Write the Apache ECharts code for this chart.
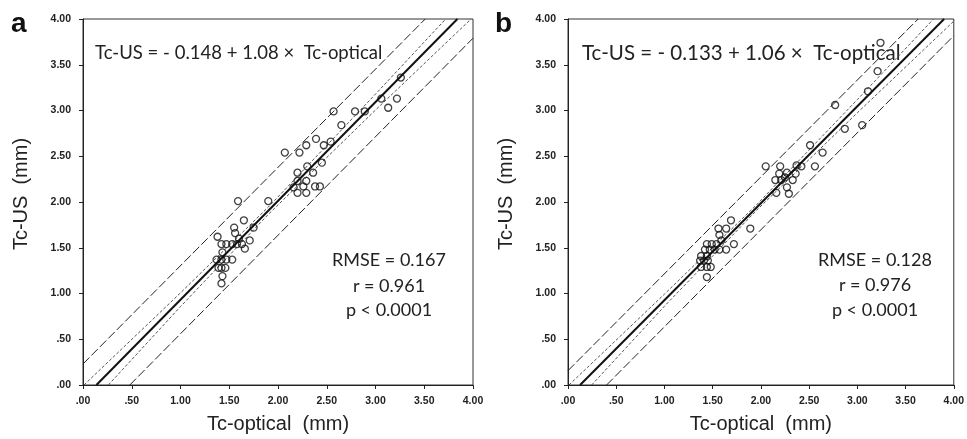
<!DOCTYPE html>
<html>
<head>
<meta charset="utf-8">
<script src="https://cdn.jsdelivr.net/npm/echarts@6/dist/echarts.min.js"></script>
<style>html,body{margin:0;padding:0;background:#fff;}#c{width:967px;height:439px;}</style>
</head>
<body>
<div id="c"></div>
<script>
// ---- tick labels ----
const tickValues = [0, 0.5, 1, 1.5, 2, 2.5, 3, 3.5, 4];
const tickLabels = ['.00', '.50', '1.00', '1.50', '2.00', '2.50', '3.00', '3.50', '4.00'];

// ---- panel a: points (Tc-optical, Tc-US) ----
const aOptical = [1.38,1.59,1.90,1.65,1.55,1.56,1.71,1.75,1.42,1.47,1.53,1.58,1.63,1.66,1.43,1.37,1.42,1.47,1.53,1.39,1.42,1.46,1.43,1.42,1.60,
  2.07,2.22,2.29,2.39,2.47,2.54,2.45,2.30,2.36,2.20,2.29,2.20,2.16,2.26,2.20,2.29,2.38,2.43,
  2.57,2.65,2.79,2.89,3.06,3.13,3.22,3.26];
const aUS = [1.62,2.01,2.01,1.80,1.72,1.66,1.58,1.72,1.54,1.54,1.54,1.54,1.54,1.49,1.45,1.37,1.37,1.37,1.37,1.28,1.28,1.28,1.19,1.11,1.60,
  2.54,2.54,2.62,2.69,2.62,2.66,2.43,2.39,2.32,2.32,2.23,2.23,2.16,2.17,2.10,2.10,2.17,2.17,
  2.99,2.84,2.99,2.99,3.13,3.03,3.13,3.36];

// ---- panel b: points ----
const bOptical = [1.69,1.89,1.56,1.64,1.57,1.59,1.72,1.64,1.44,1.49,1.54,1.42,1.47,1.52,1.57,1.38,1.44,1.37,1.41,1.45,1.38,1.44,1.48,1.44,
  2.05,2.20,2.37,2.42,2.56,2.51,2.64,2.19,2.27,2.36,2.15,2.21,2.33,2.27,2.16,2.29,2.25,
  2.77,2.87,3.05,3.11,3.21,3.24];
const bUS = [1.80,1.71,1.71,1.71,1.64,1.58,1.54,1.48,1.54,1.54,1.54,1.48,1.48,1.48,1.48,1.41,1.41,1.36,1.36,1.36,1.29,1.29,1.29,1.18,
  2.39,2.39,2.40,2.39,2.39,2.62,2.54,2.31,2.32,2.31,2.24,2.24,2.24,2.16,2.10,2.09,2.27,
  3.06,2.80,2.84,3.21,3.43,3.74];

// ---- fitted lines ----
const aFit     = [[0.137, 0], [3.84, 4.0]];
const aCIup    = [[0.01, 0], [1.0, 1.007], [1.9, 1.944], [3.0, 3.179], [3.72, 4.0]];
const aCIlow   = [[0.26, 0], [1.0, 0.857], [1.9, 1.864], [3.0, 3.005], [3.98, 4.0]];
const aPIup    = [[0, 0.23], [3.51, 4.0]];
const aPIlow   = [[0.48, 0], [4.0, 3.79]];

const bFit     = [[0.125, 0], [3.90, 4.0]];
const bCIup    = [[0.01, 0], [1.0, 0.993], [1.95, 1.964], [3.0, 3.119], [3.79, 4.0]];
const bCIlow   = [[0.245, 0], [1.0, 0.861], [1.95, 1.904], [3.0, 2.975], [4.0, 3.976]];
const bPIup    = [[0, 0.157], [3.63, 4.0]];
const bPIlow   = [[0.40, 0], [4.0, 3.817]];

// ---- texts ----
const eqA = 'Tc-US = - 0.148 + 1.08 \u00d7  Tc-optical';
const eqB = 'Tc-US = - 0.133 + 1.06 \u00d7  Tc-optical';
const statsA = ['RMSE = 0.167', 'r = 0.961', 'p < 0.0001'];
const statsB = ['RMSE = 0.128', 'r = 0.976', 'p < 0.0001'];
const xName = 'Tc-optical  (mm)';
const yName = 'Tc-US  (mm)';

const zip = (xs, ys) => xs.map((x, i) => [x, ys[i]]);
const fmt = v => { const i = tickValues.findIndex(t => Math.abs(t - v) < 1e-6); return i >= 0 ? tickLabels[i] : ''; };

const tickFont = { fontFamily: 'Liberation Sans', fontWeight: 'bold', fontSize: 10.5, color: '#222' };

function xAx(gi) {
  return {
    gridIndex: gi, type: 'value', min: 0, max: 4, interval: 0.5,
    name: xName, nameLocation: 'middle', nameGap: 29,
    nameTextStyle: { fontFamily: 'Liberation Sans', fontSize: 20, color: '#222' },
    axisLine: { show: true, onZero: false, lineStyle: { color: '#222', width: 1 } },
    axisTick: { show: true, inside: false, length: 4, lineStyle: { color: '#222' } },
    axisLabel: Object.assign({ formatter: fmt, margin: 11, showMaxLabel: true }, tickFont),
    splitLine: { show: false }
  };
}
function yAx(gi) {
  return {
    gridIndex: gi, type: 'value', min: 0, max: 4, interval: 0.5,
    axisLine: { show: true, onZero: false, lineStyle: { color: '#222', width: 1 } },
    axisTick: { show: true, inside: false, length: 4, lineStyle: { color: '#222' } },
    axisLabel: Object.assign({ formatter: fmt, margin: 12 }, tickFont),
    splitLine: { show: false }
  };
}
function lineS(gi, data, style) {
  return { type: 'line', xAxisIndex: gi, yAxisIndex: gi, data: data, showSymbol: false, symbol: 'none',
    clip: true, silent: true, animation: false, lineStyle: style, z: 2 };
}
const fitStyle = { color: '#111', width: 2, type: 'solid' };
const ciStyle  = { color: '#555', width: 1, type: [3, 2] };
const piStyle  = { color: '#222', width: 1, type: [9, 3] };
function scat(gi, data) {
  return { type: 'scatter', xAxisIndex: gi, yAxisIndex: gi, data: data, symbol: 'circle', symbolSize: 7,
    itemStyle: { color: 'rgba(255,255,255,0)', borderColor: '#111', borderWidth: 1.3 }, z: 5, animation: false };
}

const statFont = 'Lato';
function statTexts(cx, ys, lines) {
  return lines.map((t, i) => ({ type: 'text', x: cx, y: ys[i],
    style: { text: t, font: '18px ' + statFont, fill: '#222', align: 'center', verticalAlign: 'middle' } }));
}
function yTitle(cx, cy) {
  return { type: 'text', x: cx, y: cy, rotation: Math.PI / 2,
    style: { text: yName, font: '20px Liberation Sans', fill: '#222', align: 'center', verticalAlign: 'middle' } };
}

const chart = echarts.init(document.getElementById('c'), null, { renderer: 'canvas' });
chart.setOption({
  animation: false,
  backgroundColor: '#fff',
  grid: [
    { left: 83, right: 494, top: 19, bottom: 52, show: true, borderColor: '#333', borderWidth: 1, backgroundColor: 'transparent' },
    { left: 568, right: 8, top: 19, bottom: 50, show: true, borderColor: '#333', borderWidth: 1, backgroundColor: 'transparent' }
  ],
  xAxis: [xAx(0), xAx(1)],
  yAxis: [yAx(0), yAx(1)],
  series: [
    lineS(0, aPIup, piStyle), lineS(0, aPIlow, piStyle), lineS(0, aCIup, ciStyle), lineS(0, aCIlow, ciStyle), lineS(0, aFit, fitStyle),
    scat(0, zip(aOptical, aUS)),
    lineS(1, bPIup, piStyle), lineS(1, bPIlow, piStyle), lineS(1, bCIup, ciStyle), lineS(1, bCIlow, ciStyle), lineS(1, bFit, fitStyle),
    scat(1, zip(bOptical, bUS))
  ],
  graphic: [
    { type: 'text', x: 11, y: 24, style: { text: 'a', font: 'bold 28px Liberation Sans', fill: '#111', verticalAlign: 'middle' } },
    { type: 'text', x: 495, y: 24, style: { text: 'b', font: 'bold 28px Liberation Sans', fill: '#111', verticalAlign: 'middle' } },
    { type: 'text', x: 95, y: 53, style: { text: eqA, font: '18.5px ' + statFont, fill: '#222', verticalAlign: 'middle' } },
    { type: 'text', x: 582, y: 53, style: { text: eqB, font: '20.5px ' + statFont, fill: '#222', verticalAlign: 'middle' } },
    yTitle(21, 194), yTitle(506, 194)
  ].concat(statTexts(389, [260, 286, 310], statsA), statTexts(875, [260, 285, 310], statsB))
});
</script>
</body>
</html>
